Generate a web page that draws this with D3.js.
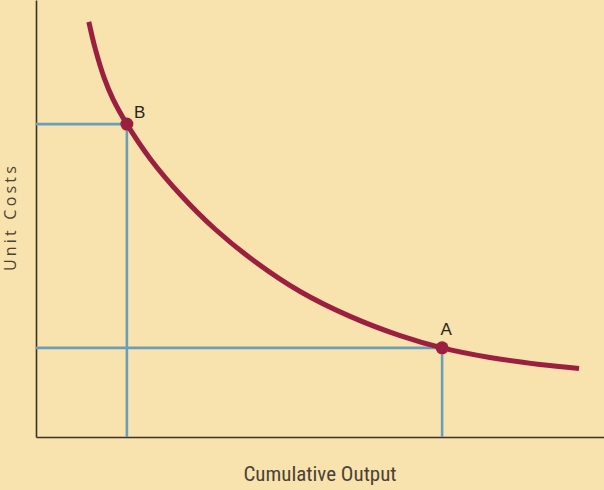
<!DOCTYPE html>
<html>
<head>
<meta charset="utf-8">
<script src="https://cdn.jsdelivr.net/npm/d3@7"></script>
<style>
  body { margin: 0; background: #f8e2ad; }
  svg { display: block; }
  .axisLine path { stroke: #3a3326; stroke-width: 1.6; }
  .guide { stroke: #6a9fba; stroke-width: 2.6; fill: none; }
  .curve { stroke: #9b1f3f; stroke-width: 5; fill: none; stroke-linecap: butt; }
  .dot { fill: #9b1f3f; }
  .ptLabel { font-family: "Liberation Sans", Arial, sans-serif; font-size: 17px; fill: #2a2418; }
  .axisTitle { fill: #3b3428; }
</style>
</head>
<body>
<script>
// learning curve, cumulative output vs unit costs (arbitrary units 0-100)
var output = [9.3, 10.4, 12.0, 13.6, 16.0, 20.1, 25.4, 31.5, 38.6, 46.5, 55.3, 64.1, 71.5, 79.9, 88.7, 95.6];
var unitCost = [95.0, 89.0, 82.2, 77.2, 71.6, 63.7, 55.5, 47.6, 40.1, 33.3, 27.6, 23.2, 20.4, 18.2, 16.6, 15.7];

var pointNames = ["B", "A"];
var pointOutput = [16.0, 71.5];
var pointCost = [71.6, 20.4];

var xTitle = "Cumulative Output";
var yTitle = "Unit Costs";

var width = 604, height = 490;

var svg = d3.select("body").append("svg").attr("width", width).attr("height", height);

svg.append("rect").attr("width", width).attr("height", height).attr("fill", "#f8e2ad");

var x = d3.scaleLinear().domain([0, 100]).range([36, 604]);
var y = d3.scaleLinear().domain([0, 100]).range([437, 0]);

// axes, just the lines
svg.append("g").classed("axisLine", true).attr("transform", "translate(0,437)")
    .call(d3.axisBottom(x).ticks(0).tickSizeOuter(0));
svg.append("g").classed("axisLine", true).attr("transform", "translate(36,0)")
    .call(d3.axisLeft(y).ticks(0).tickSizeOuter(0));

// guide lines for A and B
for (var i = 0; i < pointNames.length; i++) {
    svg.append("line").classed("guide", true)
        .attr("x1", x(0)).attr("x2", x(pointOutput[i]))
        .attr("y1", y(pointCost[i])).attr("y2", y(pointCost[i]));
    svg.append("line").classed("guide", true)
        .attr("x1", x(pointOutput[i])).attr("x2", x(pointOutput[i]))
        .attr("y1", y(pointCost[i])).attr("y2", y(0));
}

// the curve
var line = d3.line()
    .x(function(d, i) { return x(output[i]); })
    .y(function(d, i) { return y(unitCost[i]); })
    .curve(d3.curveCatmullRom.alpha(0.5));

svg.append("path").classed("curve", true).attr("d", line(output));

// points + labels
for (var i = 0; i < pointNames.length; i++) {
    svg.append("circle").classed("dot", true)
        .attr("cx", x(pointOutput[i])).attr("cy", y(pointCost[i])).attr("r", 6.5);
}
svg.append("text").classed("ptLabel", true)
    .attr("x", x(pointOutput[0]) + 7).attr("y", y(pointCost[0]) - 6)
    .text(pointNames[0]);
svg.append("text").classed("ptLabel", true).attr("text-anchor", "middle")
    .attr("x", x(pointOutput[1]) + 4).attr("y", y(pointCost[1]) - 13)
    .text(pointNames[1]);

// axis titles
svg.append("text").classed("axisTitle", true)
    .attr("x", 320).attr("y", 481).attr("text-anchor", "middle")
    .style("font-family", "'Liberation Sans Narrow', 'Roboto Condensed', Roboto, sans-serif")
    .style("font-size", "21px")
    .style("fill", "#4a4234")
    .text(xTitle);

svg.append("text").classed("axisTitle", true)
    .attr("transform", "translate(16,217) rotate(-90)")
    .attr("text-anchor", "middle")
    .style("font-family", "'Open Sans', sans-serif")
    .style("font-size", "16px")
    .style("letter-spacing", "3.2px")
    .style("fill", "#4a4234")
    .text(yTitle);
</script>
</body>
</html>
